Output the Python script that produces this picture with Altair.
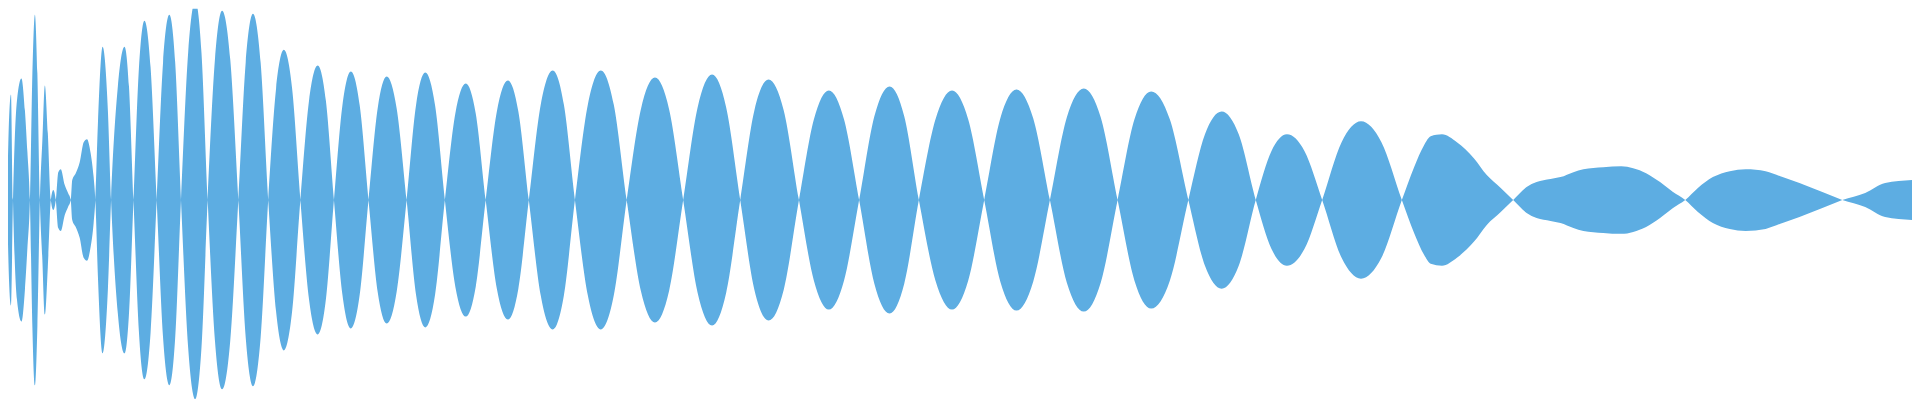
import altair as alt
import pandas as pd

# time position (sample index) and signed amplitude of the waveform envelope
t = [0, 1.5, 3, 5, 7, 9, 11, 13, 15, 17, 21.5, 25, 27.5, 30, 32.5, 35, 37.5, 40,
     42.5, 45, 48, 51, 53.5, 56, 58.5, 61, 65, 68.3, 71, 72.5, 76, 80, 84, 87.3,
     91, 94, 95.7, 98.3, 103, 108.3, 111.5,
     118.3, 125, 129.5, 134,
     139.5, 145, 151.2, 157.3,
     163.7, 170, 175.9, 181.7,
     188.9, 196, 202.3, 208.5,
     215.8, 223, 231.2, 239.3,
     246.7, 254, 261.7, 269.3,
     277.2, 285, 293.3, 301.6,
     310.3, 319, 327.2, 335.3,
     343.8, 352.3, 361.2, 370,
     379.2, 388.3, 398.3, 408.3,
     417.7, 427, 436.9, 446.7,
     457.2, 467.7, 477.7, 487.7,
     498.9, 510, 520.5, 531,
     543, 555, 566.2, 577.3,
     590.3, 603.3, 616.3, 629.3,
     643.5, 657.7, 671.9, 686,
     700.5, 715, 729.2, 743.3,
     757.5, 771.7, 787, 802.3,
     817.3, 832.3, 847.5, 862.7,
     878, 893.3, 908, 922.7,
     939.4, 956, 972.2, 988.3,
     1004.5, 1020.7, 1037.5, 1054.3,
     1071.3, 1088.3, 1105.3, 1122.3,
     1139.2, 1156, 1174.7, 1193.3,
     1210, 1226.7, 1243.9, 1261,
     1276.7, 1292.3, 1310, 1327.7,
     1347.2, 1366.7, 1387.2, 1407.7,
     1420, 1430, 1436.7, 1448, 1463, 1480, 1493, 1507, 1519.5,
     1533, 1543, 1557, 1567, 1580, 1590, 1610, 1628, 1640, 1653, 1667, 1680, 1692.3,
     1705, 1720, 1737, 1753, 1773, 1790, 1807, 1830, 1850,
     1873, 1893, 1920]
amp = [100, 50, 0, -88, 0, 80, 106, 0, -67, -100, -122, -90, -48, 0, 128, 186, 127, 0,
       -60, -115, -67, 0, 10, 0, -28, -31, -15, -7, 0, 20, 27, 38, 58, 61,
       47, 23, 0, -77, -154, -90, 0,
       114, 154, 114, 0,
       -133, -180, -133, 0,
       138, 186, 138, 0,
       -148, -200, -148, 0,
       141, 190, 141, 0,
       -138, -187, -138, 0,
       112, 151, 112, 0,
       -100, -135, -100, 0,
       95, 129, 95, 0,
       -92, -124, -92, 0,
       95, 128, 95, 0,
       -87, -117, -87, 0,
       89, 120, 89, 0,
       -96, -130, -96, 0,
       96, 130, 96, 0,
       -91, -123, -91, 0,
       93, 126, 93, 0,
       -90, -121, -90, 0,
       81, 110, 81, 0,
       -84, -114, -84, 0,
       81, 110, 81, 0,
       -82, -111, -82, 0,
       83, 112, 83, 0,
       -81, -109, -81, 0,
       66, 89, 66, 0,
       -49, -66, -49, 0,
       58, 79, 58, 0,
       -33, -55, -64, -66, -58, -42, -25, -12, 0,
       13, 18, 21, 23, 28, 31, 33, 34, 32, 27, 18, 8, 0,
       -12, -23, -29, -31, -29, -23, -17, -8, 0,
       7, 17, 20]

df = pd.DataFrame({"t": t, "amp": amp})

chart = (
    alt.Chart(df)
    .transform_calculate(neg="-datum.amp")
    .mark_area(color="#5DADE2", interpolate="monotone", clip=True, opacity=1)
    .encode(
        x=alt.X("t:Q", scale=alt.Scale(domain=[8, 1920], nice=False, zero=False), axis=None),
        y=alt.Y("amp:Q", scale=alt.Scale(domain=[-200, 192], nice=False, zero=False), axis=None),
        y2="neg:Q",
    )
    .properties(width=1912, height=392, padding=0, autosize=alt.AutoSizeParams(type="none"))
    .configure_view(stroke=None)
)

chart.save("out.html", embed_options={"renderer": "svg", "actions": False})
